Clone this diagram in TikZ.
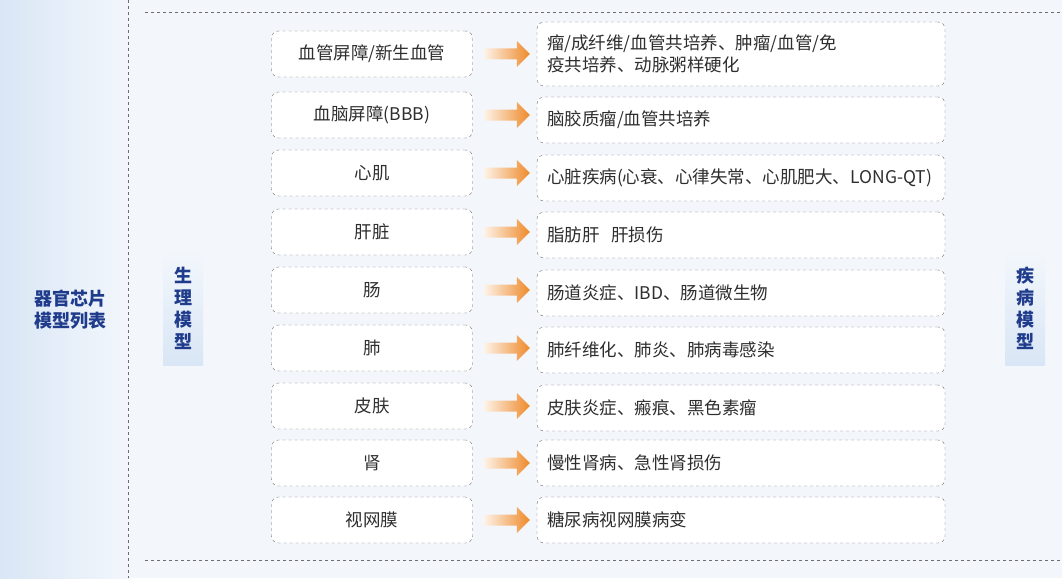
\documentclass[tikz,border=0pt]{standalone}
\usepackage{fontspec}
\setmainfont{Noto Sans CJK SC}
\usetikzlibrary{shapes.arrows}
\definecolor{navy}{HTML}{1F3B8C}
\definecolor{txt}{HTML}{2E2E2E}
\definecolor{dashc}{HTML}{6E6E6E}
\definecolor{orng}{HTML}{EE8A2A}
\definecolor{bgl}{HTML}{F3F7FC}
\definecolor{bgd}{HTML}{D9E6F5}
\begin{document}
\begin{tikzpicture}[x=1pt,y=-1pt,
  box/.style={draw=dashc,dashed,rounded corners=7pt,fill=white,minimum height=46pt,inner sep=0pt,font=\fontsize{17.5}{22}\selectfont,text=txt},
  lbox/.style={box,minimum width=201pt},
  rbox/.style={box,minimum width=408pt,align=left,text width=388pt},
  arr/.style={single arrow,left color=orng!10,right color=orng,draw=none,minimum height=46pt,minimum width=26pt,single arrow head extend=3pt,inner sep=2pt},
  side/.style={font=\bfseries\fontsize{18}{22}\selectfont,text=navy,align=center}]
\useasboundingbox (0,0) rectangle (1062,578);
\fill[bgl] (0,0) rectangle (1062,578);
\shade[left color=bgd,right color=bgl] (0,0) rectangle (130,578);
\draw[dashc,dashed] (128,0) -- (128,578);
\draw[dashc,dashed] (145,12) -- (1062,12);
\draw[dashc,dashed] (145,560) -- (1062,560);
\node[side] (main) at (70,310) {器官芯片\\模型列表};
\shade[top color=bgl,bottom color=bgd] (163,250) rectangle (203,365);
\node[side] (phys) at (183,308) {生\\理\\模\\型};
\shade[top color=bgl,bottom color=bgd] (1005,250) rectangle (1045,365);
\node[side] (dis) at (1025,308) {疾\\病\\模\\型};
\foreach \i/\y/\a in {
 1/54/{血管屏障/新生血管},
 2/115/{血脑屏障(BBB)},
 3/173/心肌,
 4/232/肝脏,
 5/290/肠,
 6/348/肺,
 7/406/皮肤,
 8/463/肾,
 9/520/视网膜}{
  \node[lbox] (l\i) at (372,\y) {\a};
  \node[arr] (a\i) at (504,\y) {};
}
\node[rbox,minimum height=64pt] (r1) at (741,54) {瘤/成纤维/血管共培养、肿瘤/血管/免\\疫共培养、动脉粥样硬化};
\node[rbox] (r2) at (741,120) {脑胶质瘤/血管共培养};
\node[rbox] (r3) at (741,178) {心脏疾病(心衰、心律失常、心肌肥大、LONG-QT)};
\node[rbox] (r4) at (741,235) {脂肪肝\ \ 肝损伤};
\node[rbox] (r5) at (741,293) {肠道炎症、IBD、肠道微生物};
\node[rbox] (r6) at (741,350) {肺纤维化、肺炎、肺病毒感染};
\node[rbox] (r7) at (741,408) {皮肤炎症、瘢痕、黑色素瘤};
\node[rbox] (r8) at (741,463) {慢性肾病、急性肾损伤};
\node[rbox] (r9) at (741,520) {糖尿病视网膜病变};
\end{tikzpicture}
\end{document}
